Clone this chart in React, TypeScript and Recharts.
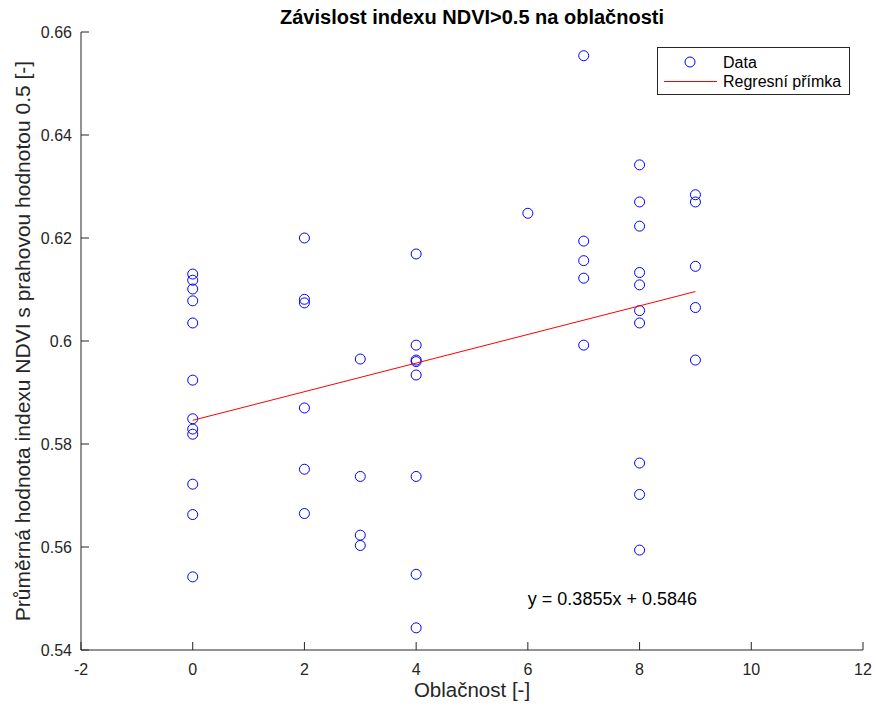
import { ReferenceDot, Scatter, ScatterChart, XAxis, YAxis } from 'recharts';

// oblačnost (x) a průměrná hodnota NDVI>0.5 (y)
const oblacnost = [
  0, 0, 0, 0, 0, 0, 0, 0, 0, 0, 0, 0,
  2, 2, 2, 2, 2, 2,
  3, 3, 3, 3,
  4, 4, 4, 4, 4, 4, 4, 4,
  6,
  7, 7, 7, 7, 7,
  8, 8, 8, 8, 8, 8, 8, 8, 8, 8,
  9, 9, 9, 9, 9,
];
const ndvi = [
  0.613, 0.6118, 0.6101, 0.6078, 0.6035, 0.5924, 0.5849, 0.5829, 0.5819, 0.5722, 0.5663, 0.5542,
  0.62, 0.6081, 0.6074, 0.587, 0.5751, 0.5665,
  0.5965, 0.5737, 0.5623, 0.5603,
  0.6169, 0.5992, 0.5963, 0.596, 0.5934, 0.5737, 0.5547, 0.5443,
  0.6248,
  0.6554, 0.6194, 0.6156, 0.6122, 0.5992,
  0.6342, 0.627, 0.6223, 0.6133, 0.6109, 0.6059, 0.6035, 0.5763, 0.5702, 0.5594,
  0.6284, 0.627, 0.6145, 0.6065, 0.5963,
];

// regresní přímka – krajní body
const regX = [0, 9];
const regY = [0.5846, 0.6096];

const xTicks = [-2, 0, 2, 4, 6, 8, 10, 12];
const yTicks = [0.54, 0.56, 0.58, 0.6, 0.62, 0.64, 0.66];

const rovnice = 'y = 0.3855x + 0.5846';
const rovniceX = 6;
const rovniceY = 0.55;

const points = oblacnost.map((x, i) => ({ x, y: ndvi[i] }));
const regLine = regX.map((x, i) => ({ x, y: regY[i] }));

const AX = '#262626';
const RED = '#ff0000';
const BLUE = '#0000ff';
const FONT = '"Liberation Sans", Arial, Helvetica, sans-serif';
const TICK = 8;

const BottomTick = ({ x, y, payload }: any) => (
  <g>
    <line x1={x} y1={y} x2={x} y2={y - TICK} stroke={AX} />
    <text x={x} y={y + 25} textAnchor="middle" fontSize={16} fontFamily={FONT} fill={AX}>
      {payload.value}
    </text>
  </g>
);

const TopTick = ({ x, y }: any) => <line x1={x} y1={y} x2={x} y2={y + TICK} stroke={AX} />;

const LeftTick = ({ x, y, payload }: any) => (
  <g>
    <line x1={x} y1={y} x2={x + TICK} y2={y} stroke={AX} />
    <text x={x - 9} y={y + 5.5} textAnchor="end" fontSize={16} fontFamily={FONT} fill={AX}>
      {payload.value}
    </text>
  </g>
);

const RightTick = ({ x, y }: any) => <line x1={x} y1={y} x2={x - TICK} y2={y} stroke={AX} />;

const Marker = ({ cx, cy }: any) => <circle cx={cx} cy={cy} r={5} fill="none" stroke={BLUE} strokeWidth={1} />;

export default function App() {
  return (
    <div style={{ position: 'absolute', left: 0, top: 0, width: 876, height: 708, background: '#fff' }}>
      <ScatterChart width={876} height={708} margin={{ top: 32, right: 13, bottom: 0, left: 0 }}>
        <XAxis
          type="number"
          dataKey="x"
          domain={[-2, 12]}
          ticks={xTicks}
          allowDataOverflow
          height={58}
          stroke={AX}
          tickLine={false}
          tickSize={0}
          tickMargin={0}
          tick={<BottomTick />}
          label={{ value: 'Oblačnost [-]', position: 'insideBottom', offset: 11, fill: AX, fontSize: 20.5, fontFamily: FONT }}
        />
        <XAxis
          xAxisId="top"
          orientation="top"
          type="number"
          domain={[-2, 12]}
          ticks={xTicks}
          allowDataOverflow
          height={0}
          stroke={AX}
          tickLine={false}
          tickSize={0}
          tickMargin={0}
          tick={<TopTick />}
        />
        <YAxis
          type="number"
          dataKey="y"
          domain={[0.54, 0.66]}
          ticks={yTicks}
          allowDataOverflow
          width={81}
          stroke={AX}
          tickLine={false}
          tickSize={0}
          tickMargin={0}
          tick={<LeftTick />}
          label={{
            value: 'Průměrná hodnota indexu NDVI s prahovou hodnotou 0.5 [-]',
            angle: -90,
            position: 'insideLeft',
            offset: 23,
            fill: AX,
            fontSize: 21,
            fontFamily: FONT,
            style: { textAnchor: 'middle' },
          }}
        />
        <YAxis
          yAxisId="right"
          orientation="right"
          type="number"
          domain={[0.54, 0.66]}
          ticks={yTicks}
          allowDataOverflow
          width={0}
          stroke={AX}
          tickLine={false}
          tickSize={0}
          tickMargin={0}
          tick={<RightTick />}
        />
        <Scatter name="Data" data={points} shape={<Marker />} isAnimationActive={false} />
        <Scatter
          name="Regresní přímka"
          data={regLine}
          line={{ stroke: RED, strokeWidth: 1 }}
          shape={() => <g />}
          isAnimationActive={false}
        />
        <ReferenceDot
          x={rovniceX}
          y={rovniceY}
          r={0}
          fill="none"
          stroke="none"
          label={{ value: rovnice, position: 'right', offset: 0, fill: '#000', fontSize: 18, fontFamily: FONT }}
        />
      </ScatterChart>
      {/* nadpis a legenda */}
      <svg width={876} height={100} style={{ position: 'absolute', left: 0, top: 0, pointerEvents: 'none' }}>
        <text x={472} y={24} textAnchor="middle" fontSize={20} fontWeight="bold" fontFamily={FONT} fill="#000">
          Závislost indexu NDVI&gt;0.5 na oblačnosti
        </text>
        <g transform="translate(657, 47)">
          <rect x={0.5} y={0.5} width={192} height={47} fill="#fff" stroke={AX} strokeWidth={1} />
          <circle cx={33} cy={15} r={5} fill="none" stroke={BLUE} strokeWidth={1} />
          <line x1={7} y1={34.5} x2={60} y2={34.5} stroke={RED} strokeWidth={1} />
          <text x={66} y={20.5} fontSize={16} fontFamily={FONT} fill="#000">Data</text>
          <text x={66} y={40} fontSize={16} fontFamily={FONT} fill="#000">Regresní přímka</text>
        </g>
      </svg>
    </div>
  );
}
